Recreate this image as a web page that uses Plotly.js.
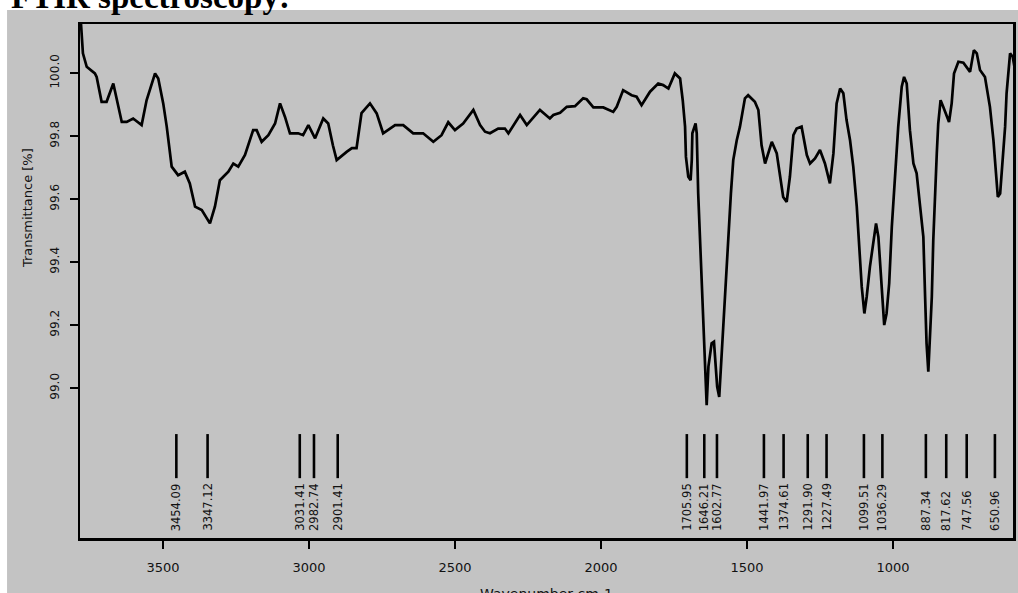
<!DOCTYPE html>
<html>
<head>
<meta charset="utf-8">
<script src="https://cdn.plot.ly/plotly-3.0.1.min.js"></script>
<style>
html,body{margin:0;padding:0;background:#fff;}
#chart{width:1018px;height:593px;}
</style>
</head>
<body>
<div id="chart"></div>
<script>
// Spectrum (wavenumber cm-1, transmittance %)
const wavenumber = [3781,3774,3761,3733,3727,3710,3693,3670,3641,3624,3602,3573,3556,3527,3516,3499,3487,3470,3448,3425,3408,3390,3367,3339,3322,3305,3276,3259,3242,3219,3191,3179,3162,3139,3116,3099,3082,3065,3037,3020,3002,2979,2951,2934,2918,2905,2871,2853,2837,2820,2791,2768,2746,2705,2677,2643,2609,2574,2546,2523,2500,2472,2437,2414,2397,2380,2352,2329,2317,2295,2277,2254,2209,2175,2163,2140,2117,2089,2061,2049,2026,1992,1958,1946,1924,1895,1878,1861,1832,1804,1787,1769,1747,1729,1720,1712,1709,1701,1693,1689,1687,1676,1672,1667,1661,1655,1650,1644,1638,1632,1627,1621,1613,1606,1602,1595,1587,1581,1573,1564,1555,1547,1535,1524,1507,1496,1473,1461,1450,1438,1427,1415,1398,1387,1376,1364,1353,1341,1330,1313,1295,1284,1267,1250,1233,1216,1204,1193,1181,1170,1159,1147,1136,1124,1113,1107,1098,1090,1079,1067,1058,1050,1039,1030,1022,1013,1004,993,982,970,962,953,942,930,919,907,896,890,885,879,873,867,862,856,850,845,837,828,816,808,799,791,776,759,736,723,713,702,685,668,656,648,641,633,624,616,611,599,590,582];
const transmittance = [100.162,100.063,100.020,99.999,99.988,99.909,99.909,99.967,99.845,99.845,99.856,99.835,99.914,99.999,99.983,99.904,99.830,99.703,99.676,99.687,99.650,99.576,99.565,99.523,99.576,99.660,99.687,99.713,99.703,99.740,99.819,99.819,99.782,99.803,99.840,99.904,99.861,99.809,99.809,99.803,99.835,99.793,99.856,99.840,99.771,99.724,99.750,99.762,99.762,99.873,99.904,99.872,99.809,99.835,99.835,99.809,99.809,99.782,99.803,99.844,99.819,99.840,99.883,99.835,99.814,99.809,99.824,99.824,99.809,99.840,99.867,99.835,99.883,99.856,99.867,99.874,99.893,99.895,99.920,99.917,99.891,99.891,99.877,99.893,99.946,99.930,99.925,99.898,99.941,99.967,99.962,99.951,99.999,99.983,99.914,99.830,99.734,99.671,99.660,99.724,99.809,99.840,99.809,99.618,99.470,99.332,99.205,99.078,98.946,99.068,99.110,99.142,99.147,99.068,99.004,98.972,99.099,99.216,99.359,99.491,99.618,99.724,99.787,99.830,99.920,99.930,99.909,99.883,99.771,99.713,99.745,99.782,99.745,99.682,99.607,99.591,99.671,99.803,99.824,99.830,99.740,99.713,99.729,99.756,99.713,99.650,99.745,99.904,99.951,99.936,99.851,99.787,99.703,99.576,99.428,99.322,99.237,99.290,99.385,99.459,99.523,99.480,99.322,99.200,99.237,99.332,99.512,99.671,99.830,99.957,99.988,99.967,99.819,99.713,99.682,99.576,99.480,99.290,99.142,99.052,99.152,99.290,99.470,99.629,99.745,99.840,99.914,99.893,99.861,99.845,99.904,99.999,100.036,100.033,100.004,100.073,100.063,100.010,99.988,99.893,99.787,99.703,99.607,99.618,99.724,99.830,99.936,100.063,100.052,100.010];

// Peak picks
const peakWavenumbers = [3454.09,3347.12,3031.41,2982.74,2901.41,1705.95,1646.21,1602.77,1441.97,1374.61,1291.90,1227.49,1099.51,1036.29,887.34,817.62,747.56,650.96];
const peakLabels = ["3454.09","3347.12","3031.41","2982.74","2901.41","1705.95","1646.21","1602.77","1441.97","1374.61","1291.90","1227.49","1099.51","1036.29","887.34","817.62","747.56","650.96"];
const peakMarkTop = 98.854;
const peakMarkBottom = 98.714;
const peakLabelBase = 98.543;

// Axes
const xTickVals = [3500,3000,2500,2000,1500,1000];
const xTickText = ["3500","3000","2500","2000","1500","1000"];
const yTickVals = [99.0,99.2,99.4,99.6,99.8,100.0];
const yTickText = ["99.0","99.2","99.4","99.6","99.8","100.0"];
const xRange = [3784, 589];
const yRange = [98.524, 100.156];

const titleText = "FTIR spectroscopy:";
const yTitle = "Transmittance [%]";
const xTitle = "Wavenumber cm-1";

// build peak marker segments
const mx = [], my = [];
peakWavenumbers.forEach(w => { mx.push(w, w, null); my.push(peakMarkTop, peakMarkBottom, null); });

const traces = [
  {x: wavenumber, y: transmittance, type: 'scatter', mode: 'lines',
   line: {color: '#000', width: 2.7}, hoverinfo: 'x+y'},
  {x: mx, y: my, type: 'scatter', mode: 'lines',
   line: {color: '#000', width: 2.6}, hoverinfo: 'skip'}
];

const FONT = 'DejaVu Sans, Arial, sans-serif';
const annotations = peakWavenumbers.map((w, i) => ({
  x: w, y: peakLabelBase, xref: 'x', yref: 'y', text: peakLabels[i],
  textangle: -90, showarrow: false, xanchor: 'center', yanchor: 'bottom',
  borderpad: 0, font: {family: FONT, size: 11.5, color: '#111'}
}));
annotations.push({
  x: -0.0568, y: 0.642, xref: 'paper', yref: 'paper', text: yTitle,
  textangle: -90, showarrow: false, xanchor: 'center', yanchor: 'middle',
  font: {family: FONT, size: 13, color: '#111'}
});
annotations.push({
  x: 0.5, y: -0.0895, xref: 'paper', yref: 'paper', text: xTitle,
  showarrow: false, xanchor: 'center', yanchor: 'top',
  font: {family: FONT, size: 14, color: '#111'}
});
annotations.push({
  x: -0.0750, y: 1.0165, xref: 'paper', yref: 'paper', text: '<b>' + titleText + '</b>',
  showarrow: false, xanchor: 'left', yanchor: 'bottom', borderpad: 0,
  font: {family: 'Liberation Serif, Times New Roman, serif', size: 33, color: '#000'}
});

const layout = {
  width: 1018, height: 593,
  margin: {l: 80, r: 5, t: 24, b: 55, pad: 0},
  paper_bgcolor: '#ffffff',
  plot_bgcolor: 'rgba(0,0,0,0)',
  showlegend: false,
  xaxis: {
    range: xRange, tickmode: 'array', tickvals: xTickVals, ticktext: xTickText,
    showgrid: false, zeroline: false, showline: true, mirror: true,
    linecolor: '#000', linewidth: 2.5, ticks: 'outside', ticklen: 8, tickwidth: 2.5,
    tickcolor: '#000', ticklabelstandoff: 8,
    tickfont: {family: FONT, size: 13, color: '#111'}
  },
  yaxis: {
    range: yRange, tickmode: 'array', tickvals: yTickVals, ticktext: yTickText,
    showgrid: false, zeroline: false, showline: true, mirror: true,
    linecolor: '#000', linewidth: 2.5, ticks: 'outside', ticklen: 8, tickwidth: 2.5,
    tickcolor: '#000', tickangle: -90, ticklabelstandoff: 6,
    tickfont: {family: FONT, size: 12, color: '#111'}
  },
  shapes: [{
    type: 'rect', xref: 'paper', yref: 'paper', layer: 'below',
    x0: -0.0782, x1: 1.0054, y0: -0.107, y1: 1.0272,
    fillcolor: '#c3c3c3', line: {width: 0}
  }],
  annotations: annotations
};

Plotly.newPlot('chart', traces, layout, {displayModeBar: false, staticPlot: true});
</script>
</body>
</html>
